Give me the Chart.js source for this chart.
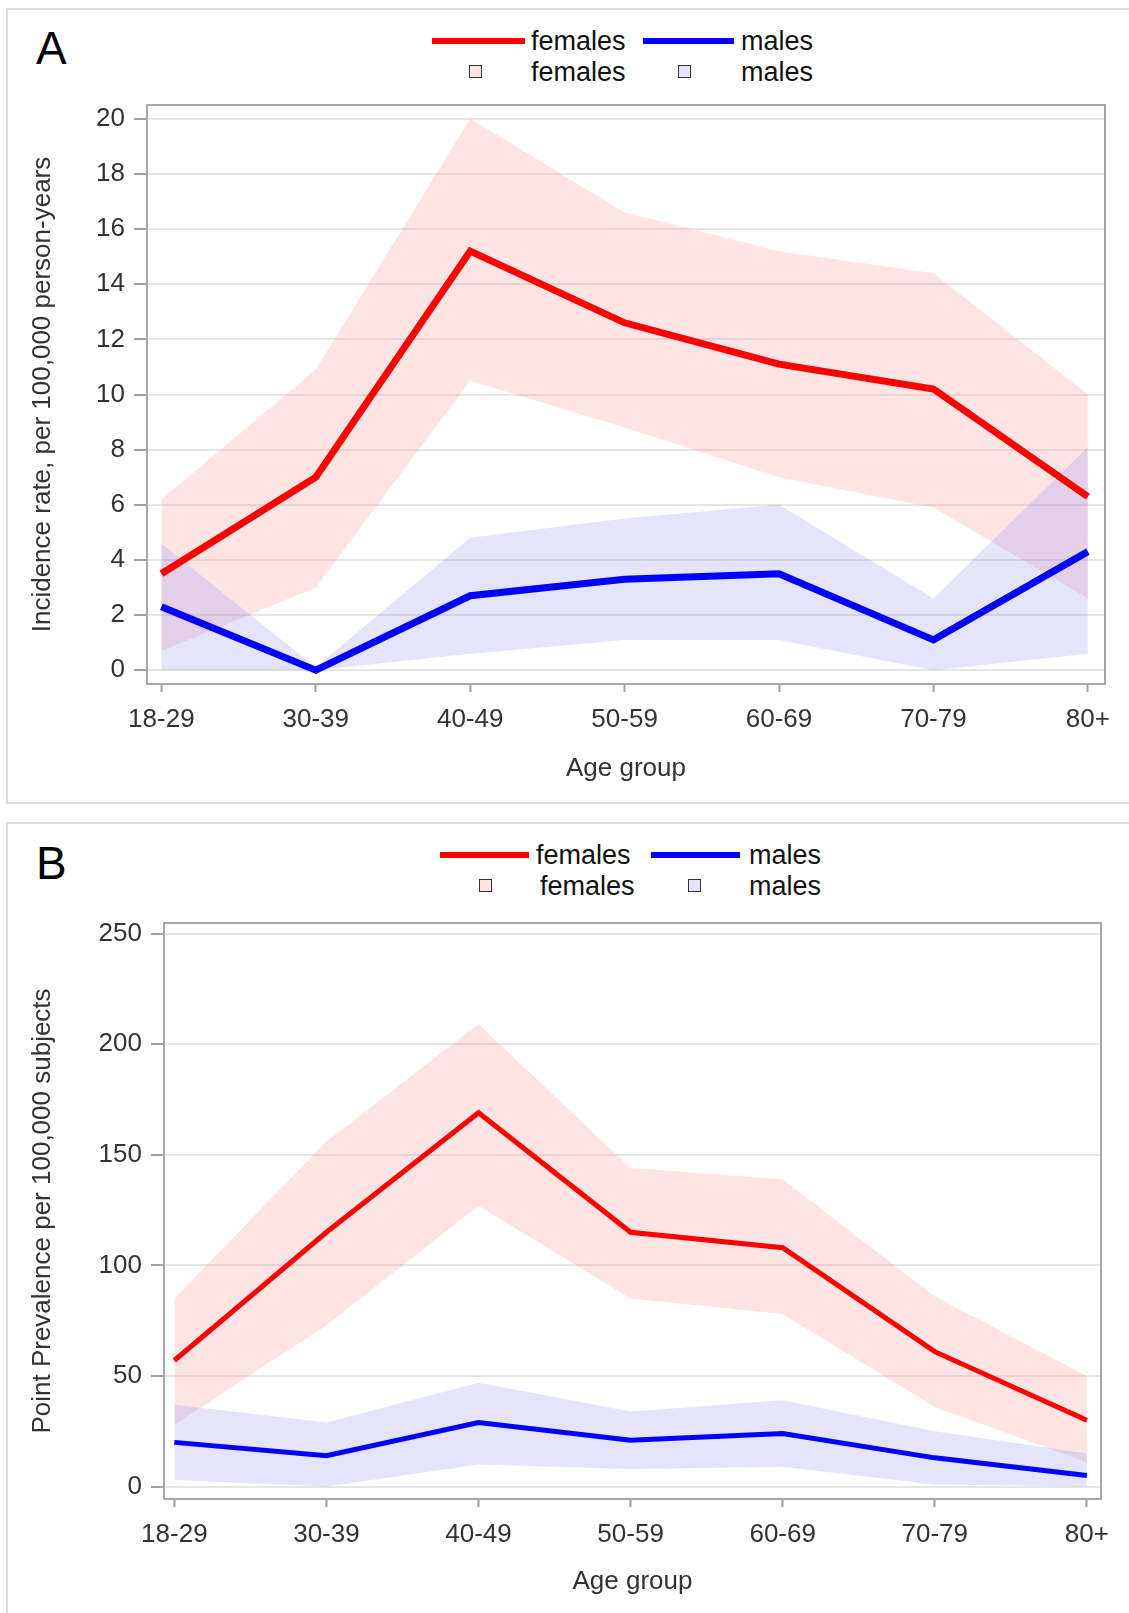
<!DOCTYPE html>
<html>
<head>
<meta charset="utf-8">
<script src="https://cdn.jsdelivr.net/npm/chart.js@4.4.1/dist/chart.umd.min.js"></script>
<style>
  body { margin: 0; background: #fff; font-family: "Liberation Sans", Arial, sans-serif; }
  #page { position: relative; width: 1129px; height: 1613px; overflow: hidden; }
  .panel { position: absolute; border: 2px solid #dcdcdc; box-sizing: border-box; }
  .letter { position: absolute; font-size: 46px; line-height: 46px; color: #000; }
  .lg { position: absolute; font-size: 27px; line-height: 30px; height: 30px; color: #111; white-space: nowrap; }
  .ln { position: absolute; height: 6px; }
  .sq { position: absolute; width: 11px; height: 11px; border: 1.5px solid #333; }
  canvas { position: absolute; left: 0; }
</style>
</head>
<body>
<div id="page">
  <div class="panel" style="left:6px; top:8px; width:1140px; height:796px;"></div>
  <div class="panel" style="left:6px; top:822px; width:1140px; height:820px;"></div>

  <div class="letter" style="left:36px; top:25px;">A</div>
  <div class="ln" style="left:432px; top:38px; width:93px; background:#ff0000;"></div>
  <div class="lg" style="left:531px; top:26px;">females</div>
  <div class="ln" style="left:643px; top:38px; width:91px; background:#0000ff;"></div>
  <div class="lg" style="left:741px; top:26px;">males</div>
  <div class="sq" style="left:469px; top:65px; background:#ffe4e4;"></div>
  <div class="lg" style="left:531px; top:57px;">females</div>
  <div class="sq" style="left:678px; top:65px; background:#e4e4fc;"></div>
  <div class="lg" style="left:741px; top:57px;">males</div>

  <div class="letter" style="left:36px; top:840px;">B</div>
  <div class="ln" style="left:440px; top:852px; width:89px; background:#ff0000;"></div>
  <div class="lg" style="left:536px; top:840px;">females</div>
  <div class="ln" style="left:651px; top:852px; width:89px; background:#0000ff;"></div>
  <div class="lg" style="left:749px; top:840px;">males</div>
  <div class="sq" style="left:479px; top:879px; background:#ffe4e4;"></div>
  <div class="lg" style="left:540px; top:871px;">females</div>
  <div class="sq" style="left:688px; top:879px; background:#e4e4fc;"></div>
  <div class="lg" style="left:749px; top:871px;">males</div>

  <canvas id="incidence" style="top:0px;"></canvas>
  <canvas id="prevalence" style="top:822px;"></canvas>
</div>
<script>
const ageGroups = ['18-29', '30-39', '40-49', '50-59', '60-69', '70-79', '80+']

// A: incidence rate per 100,000 person-years
const femInc   = [3.5, 7.0, 15.2, 12.6, 11.1, 10.2, 6.3]
const femIncLo = [0.7, 3.0, 10.5, 8.8, 7.0, 5.9, 2.6]
const femIncHi = [6.2, 10.9, 20.0, 16.6, 15.2, 14.4, 10.0]
const maleInc   = [2.3, 0.0, 2.7, 3.3, 3.5, 1.1, 4.3]
const maleIncLo = [0.0, 0.0, 0.6, 1.1, 1.1, 0.0, 0.6]
const maleIncHi = [4.6, 0.1, 4.8, 5.5, 6.0, 2.6, 8.1]
const incTicks = [0, 2, 4, 6, 8, 10, 12, 14, 16, 18, 20]

// B: point prevalence per 100,000 subjects
const femPrev   = [57, 115, 169, 115, 108, 61, 30]
const femPrevLo = [28, 73, 127, 85, 78, 36, 11]
const femPrevHi = [85, 156, 209, 144, 139, 86, 50]
const malePrev   = [20, 14, 29, 21, 24, 13, 5]
const malePrevLo = [3, 0, 10, 8, 9, 1, 0]
const malePrevHi = [37, 29, 47, 34, 39, 25, 15]
const prevTicks = [0, 50, 100, 150, 200, 250]

const FONT = "'Liberation Sans', Arial, sans-serif"
const pts = arr => arr.map((v, i) => ({x: i, y: v}))

const frame = {
  id: 'frame',
  afterDraw(chart) {
    const {ctx, chartArea: a} = chart
    ctx.save()
    ctx.strokeStyle = '#a8a8a8'
    ctx.lineWidth = 2
    ctx.strokeRect(a.left, a.top, a.right - a.left, a.bottom - a.top)
    ctx.restore()
  }
}

function draw_graph(canvas, h, cfg) {
  canvas.width = 1129
  canvas.height = h
  canvas.style.width = '1129px'
  canvas.style.height = h + 'px'
  new Chart(canvas, {
    type: 'line',
    data: {
      datasets: [
        {data: pts(cfg.fHi), fill: '+1', backgroundColor: 'rgba(255,128,128,0.21)', borderWidth: 0, pointRadius: 0, order: 3},
        {data: pts(cfg.fLo), fill: false, borderWidth: 0, pointRadius: 0, order: 3},
        {data: pts(cfg.mHi), fill: '+1', backgroundColor: 'rgba(128,128,245,0.21)', borderWidth: 0, pointRadius: 0, order: 2},
        {data: pts(cfg.mLo), fill: false, borderWidth: 0, pointRadius: 0, order: 2},
        {data: pts(cfg.f), borderColor: '#ff0000', borderWidth: cfg.lw, pointRadius: 0, fill: false, order: 1},
        {data: pts(cfg.m), borderColor: '#0000ff', borderWidth: cfg.lw, pointRadius: 0, fill: false, order: 0}
      ]
    },
    options: {
      responsive: false,
      animation: false,
      events: [],
      layout: {padding: {top: cfg.top, right: cfg.right, left: 0, bottom: 0}},
      plugins: {legend: {display: false}, tooltip: {enabled: false}},
      scales: {
        x: {
          type: 'linear',
          min: cfg.xmin,
          max: cfg.xmax,
          afterBuildTicks: s => { s.ticks = ageGroups.map((g, i) => ({value: i})) },
          afterFit: s => { s.height = h - cfg.bottom },
          grid: {drawOnChartArea: false, drawTicks: true, tickLength: 8, tickColor: '#a0a0a0', tickWidth: 2},
          border: {display: true, color: '#a8a8a8', width: 2},
          ticks: {callback: v => ageGroups[v], color: '#333', padding: 12, maxRotation: 0, font: {family: FONT, size: 26}},
          title: {display: true, text: 'Age group', color: '#333', font: {family: FONT, size: 26}, padding: {top: 0, bottom: 16}}
        },
        y: {
          min: cfg.ymin,
          max: cfg.ymax,
          afterBuildTicks: s => { s.ticks = cfg.ticks.map(v => ({value: v})) },
          afterFit: s => { s.width = cfg.left },
          grid: {color: '#e6e6e6', lineWidth: 2, drawTicks: true, tickLength: 13, tickColor: '#a0a0a0', tickWidth: 2},
          border: {display: true, color: '#a8a8a8', width: 2},
          ticks: {color: '#333', padding: 9, font: {family: FONT, size: 26}},
          title: {display: true, text: cfg.ytitle, color: '#333', font: {family: FONT, size: 26}, padding: {top: 27, bottom: 0}}
        }
      }
    },
    plugins: [frame]
  })
}

draw_graph(document.getElementById('incidence'), 800, {
  f: femInc, fLo: femIncLo, fHi: femIncHi, m: maleInc, mLo: maleIncLo, mHi: maleIncHi,
  ticks: incTicks, ymin: -0.5, ymax: 20.5, xmin: -0.093, xmax: 6.111,
  top: 105, right: 24, left: 147, bottom: 684, lw: 7,
  ytitle: 'Incidence rate, per 100,000 person-years'
})

draw_graph(document.getElementById('prevalence'), 791, {
  f: femPrev, fLo: femPrevLo, fHi: femPrevHi, m: malePrev, mLo: malePrevLo, mHi: malePrevHi,
  ticks: prevTicks, ymin: -5.6, ymax: 254.8, xmin: -0.068, xmax: 6.093,
  top: 101, right: 28, left: 164, bottom: 677, lw: 5,
  ytitle: 'Point Prevalence per 100,000 subjects'
})
</script>
</body>
</html>
